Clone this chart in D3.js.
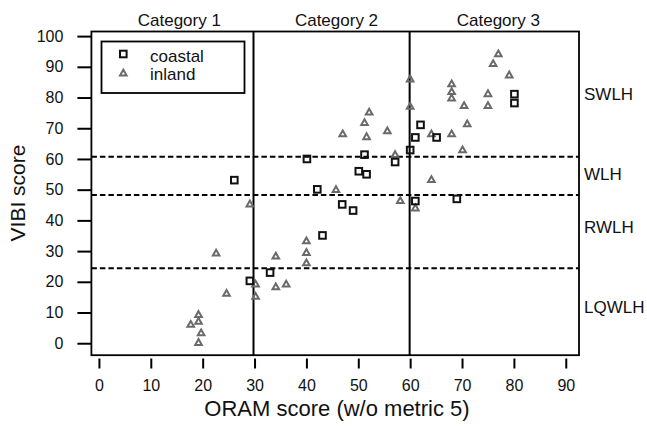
<!DOCTYPE html>
<html>
<head>
<meta charset="utf-8">
<script src="https://cdn.jsdelivr.net/npm/d3@7"></script>
<style>
  body { margin: 0; background: #fff; }
  svg { display: block; font-family: "Liberation Sans", Arial, sans-serif; }
</style>
</head>
<body>
<div id="chart"></div>
<script>
// ORAM vs VIBI scores
var coastalX = [26.1, 42.1, 43.1, 33.0, 29.1, 62.0, 61.0, 65.1, 60.0, 40.1, 51.2, 57.1, 50.1, 51.6, 61.0, 69.0, 46.9, 49.0, 80.1, 80.1];
var coastalY = [53.1, 50.1, 35.1, 23.0, 20.3, 71.1, 67.0, 67.0, 62.9, 60.0, 61.4, 59.0, 56.0, 55.0, 46.3, 47.0, 45.2, 43.2, 81.1, 78.2];

var inlandX = [29.1, 40.0, 40.0, 40.0, 22.6, 34.1, 30.2, 34.1, 36.1, 24.6, 30.2, 19.2, 19.2, 17.7, 19.7, 19.2,
               51.2, 71.0, 47.0, 51.6, 55.6, 64.1, 68.0, 70.1, 57.1, 64.1, 45.7, 58.1, 61.0,
               77.0, 76.0, 79.1, 60.0, 68.0, 68.0, 68.0, 75.0, 75.0, 70.4, 60.0, 52.1];
var inlandY = [45.5, 33.5, 29.7, 26.3, 29.5, 28.5, 19.4, 18.5, 19.4, 16.4, 15.4, 9.5, 7.3, 6.3, 3.5, 0.4,
               72.0, 71.6, 68.3, 67.4, 69.3, 68.3, 68.3, 63.1, 61.6, 53.4, 50.2, 46.6, 44.2,
               94.4, 91.2, 87.5, 86.2, 84.6, 82.1, 80.0, 81.4, 77.5, 77.5, 77.3, 75.4];

var xTicks = [0, 10, 20, 30, 40, 50, 60, 70, 80, 90];
var yTicks = [0, 10, 20, 30, 40, 50, 60, 70, 80, 90, 100];

var categoryNames = ["Category 1", "Category 2", "Category 3"];
var categoryPos = [15.5, 45.8, 77];
var categoryBreaks = [29.8, 59.9];

var classNames = ["SWLH", "WLH", "RWLH", "LQWLH"];
var classPos = [81, 55.2, 37.8, 11.9];
var classBreaks = [60.7, 48.3, 24.4];

function init() {
  var W = 647, H = 426;
  var left = 91.4, right = 579, top = 31.5, bottom = 355.2;

  var svg = d3.select("#chart").append("svg")
    .attr("width", W)
    .attr("height", H);

  var x = d3.scaleLinear().domain([-1.45, 92.55]).range([left, right]);
  var y = d3.scaleLinear().domain([-3.9, 101.5]).range([bottom, top]);

  // category dividers and class thresholds
  svg.selectAll("line.vbreak")
    .data(categoryBreaks)
    .enter().append("line")
    .attr("class", "vbreak")
    .attr("x1", function(d) { return x(d); })
    .attr("x2", function(d) { return x(d); })
    .attr("y1", top)
    .attr("y2", bottom)
    .style("stroke", "#000")
    .style("stroke-width", 2);

  svg.selectAll("line.hbreak")
    .data(classBreaks)
    .enter().append("line")
    .attr("class", "hbreak")
    .attr("x1", left)
    .attr("x2", right)
    .attr("y1", function(d) { return y(d); })
    .attr("y2", function(d) { return y(d); })
    .style("stroke", "#000")
    .style("stroke-width", 2)
    .style("stroke-dasharray", "5.5,3");

  // points
  var tw = 6.6, th = 5.8;   // triangle size
  var triPath = "M0," + (-th / 2) + "L" + (tw / 2) + "," + (th / 2) + "L" + (-tw / 2) + "," + (th / 2) + "Z";
  svg.selectAll("path.inland")
    .data(inlandX.map(function(d, i) { return [d, inlandY[i]]; }))
    .enter().append("path")
    .attr("class", "inland")
    .attr("d", triPath)
    .attr("transform", function(d) { return "translate(" + x(d[0]) + "," + y(d[1]) + ")"; })
    .style("fill", "none")
    .style("stroke", "#6a6a6a")
    .style("stroke-width", 2);

  var s = 6.6;
  svg.selectAll("rect.coastal")
    .data(coastalX.map(function(d, i) { return [d, coastalY[i]]; }))
    .enter().append("rect")
    .attr("class", "coastal")
    .attr("x", function(d) { return x(d[0]) - s / 2; })
    .attr("y", function(d) { return y(d[1]) - s / 2; })
    .attr("width", s)
    .attr("height", s)
    .style("fill", "none")
    .style("stroke", "#111")
    .style("stroke-width", 2);

  // frame
  svg.append("rect")
    .attr("x", left)
    .attr("y", top)
    .attr("width", right - left)
    .attr("height", bottom - top)
    .style("fill", "none")
    .style("stroke", "#000")
    .style("stroke-width", 1.8);

  // axes
  var yAxis = svg.append("g")
    .attr("transform", "translate(" + left + ",0)")
    .call(d3.axisLeft(y).tickValues(yTicks).tickSize(14).tickPadding(14).tickSizeOuter(0));
  var xAxis = svg.append("g")
    .attr("transform", "translate(0," + (bottom + 3.3) + ")")
    .call(d3.axisBottom(x).tickValues(xTicks).tickSize(10).tickPadding(11.5).tickSizeOuter(0));

  [xAxis, yAxis].forEach(function(ax) {
    ax.select(".domain").remove();
    ax.selectAll("line").style("stroke", "#000").style("stroke-width", 2);
    ax.selectAll("text")
      .style("font-size", "16px")
      .style("fill", "#111")
      .attr("font-family", null);
  });

  // axis titles
  svg.append("text")
    .attr("x", 337)
    .attr("y", 416)
    .attr("text-anchor", "middle")
    .style("font-size", "22px")
    .style("fill", "#111")
    .text("ORAM score (w/o metric 5)");

  svg.append("text")
    .attr("transform", "translate(25,193) rotate(-90)")
    .attr("text-anchor", "middle")
    .style("font-size", "21px")
    .style("fill", "#111")
    .text("VIBI score");

  // category labels on top
  svg.selectAll("text.cat")
    .data(categoryNames)
    .enter().append("text")
    .attr("class", "cat")
    .attr("x", function(d, i) { return x(categoryPos[i]); })
    .attr("y", 26)
    .attr("text-anchor", "middle")
    .style("font-size", "17px")
    .style("fill", "#111")
    .text(function(d) { return d; });

  // wetland class labels on the right
  svg.selectAll("text.cls")
    .data(classNames)
    .enter().append("text")
    .attr("class", "cls")
    .attr("x", right + 5)
    .attr("y", function(d, i) { return y(classPos[i]) + 6; })
    .style("font-size", "17px")
    .style("fill", "#111")
    .text(function(d) { return d; });

  // legend
  var legend = svg.append("g");
  legend.append("rect")
    .attr("x", 101.5)
    .attr("y", 41.5)
    .attr("width", 143)
    .attr("height", 51.5)
    .style("fill", "#fff")
    .style("stroke", "#000")
    .style("stroke-width", 1.8);

  legend.append("rect")
    .attr("x", 123.3 - s / 2)
    .attr("y", 54 - s / 2)
    .attr("width", s)
    .attr("height", s)
    .style("fill", "none")
    .style("stroke", "#111")
    .style("stroke-width", 2);

  legend.append("path")
    .attr("d", triPath)
    .attr("transform", "translate(123.3,72.7)")
    .style("fill", "none")
    .style("stroke", "#6a6a6a")
    .style("stroke-width", 2);

  legend.append("text")
    .attr("x", 150)
    .attr("y", 61.5)
    .style("font-size", "17px")
    .style("fill", "#111")
    .text("coastal");

  legend.append("text")
    .attr("x", 150)
    .attr("y", 80)
    .style("font-size", "17px")
    .style("fill", "#111")
    .text("inland");
}

window.onload = init;
</script>
</body>
</html>
